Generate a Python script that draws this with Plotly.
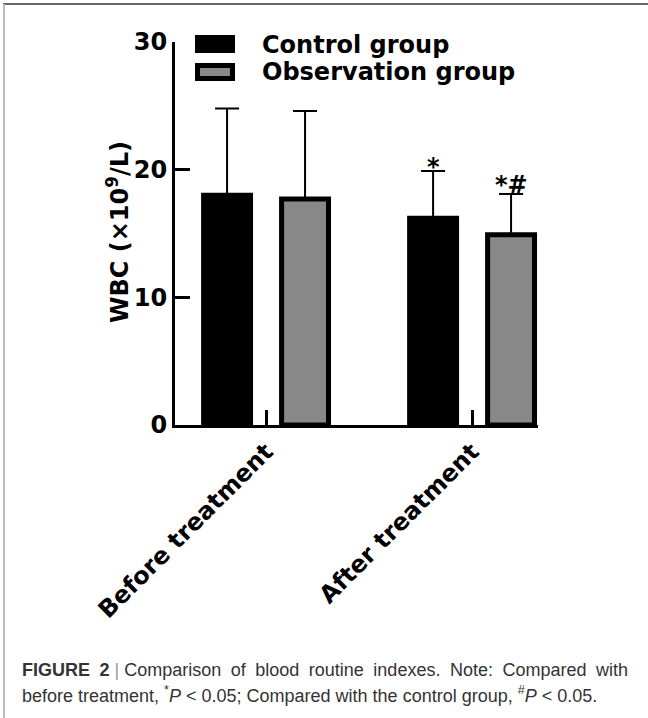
import plotly.graph_objects as go

# ---- data ----
categories = ["Before treatment", "After treatment"]
series_names = ["Control group", "Observation group"]
control_mean = [18.0, 16.2]
control_sd = [6.8, 3.7]
observation_mean = [17.7, 14.9]
observation_sd = [6.9, 3.2]
sig_control = ["", "*"]
sig_observation = ["", "*#"]
y_ticks = [0, 10, 20, 30]

# ---- geometry (pixels) ----
W, H = 648, 718
L, R, T, B = 175, 110, 42, 293
PW, PH = W - L - R, H - T - B


def px(xp):
    return (xp - L) / PW


def py(yp):
    return (H - B - yp) / PH


BOLD = dict(family="DejaVu Sans", size=24, color="black", weight="bold")
GRAY = "#888888"

fig = go.Figure()
fig.add_trace(go.Bar(
    x=categories, y=control_mean, name=series_names[0],
    marker=dict(color="black", line=dict(color="black", width=5)),
    error_y=dict(type="data", array=control_sd, arrayminus=[0] * len(control_sd),
                 symmetric=False, color="black", thickness=2, width=12),
    showlegend=False,
))
fig.add_trace(go.Bar(
    x=categories, y=observation_mean, name=series_names[1],
    marker=dict(color=GRAY, line=dict(color="black", width=5)),
    error_y=dict(type="data", array=observation_sd, arrayminus=[0] * len(observation_sd),
                 symmetric=False, color="black", thickness=2, width=12),
    showlegend=False,
))

annotations = []
# significance marks above error bars
for cat, m, s, lab in zip(categories, control_mean, control_sd, sig_control):
    if lab:
        annotations.append(dict(x=cat, y=m + s, xref="x", yref="y", text=lab, showarrow=False,
                                xshift=-39, yshift=-12, yanchor="bottom", font=BOLD))
for cat, m, s, lab in zip(categories, observation_mean, observation_sd, sig_observation):
    if lab:
        annotations.append(dict(x=cat, y=m + s, xref="x", yref="y", text=lab, showarrow=False,
                                xshift=39, yshift=-7, yanchor="bottom", font=BOLD))

# y-axis title
annotations.append(dict(x=px(118), y=py(232), xref="paper", yref="paper",
                        text="WBC (×10<sup>9</sup>/L)", textangle=-90, showarrow=False,
                        xanchor="center", yanchor="middle", font=BOLD))

# legend texts
annotations.append(dict(x=px(260), y=py(45), xref="paper", yref="paper", text=series_names[0],
                        showarrow=False, xanchor="left", yanchor="middle", font=BOLD))
annotations.append(dict(x=px(260), y=py(72), xref="paper", yref="paper", text=series_names[1],
                        showarrow=False, xanchor="left", yanchor="middle", font=BOLD))

# caption
CAP = dict(family="Liberation Sans", size=18, color="#333333")
S = " \u2005"
line1 = ("<b>FIGURE" + S + "2</b> <span style='color:#999999'>|</span> Comparison" + S + "of" + S +
         "blood" + S + "routine" + S + "indexes." + S + "Note:" + S + "Compared" + S + "with")
line2 = ("before treatment, <sup>*</sup><i>P</i> &lt; 0.05; Compared with the control group, "
         "<sup>#</sup><i>P</i> &lt; 0.05.")
annotations.append(dict(x=px(20), y=py(670), xref="paper", yref="paper", text=line1,
                        showarrow=False, xanchor="left", yanchor="middle", font=CAP))
annotations.append(dict(x=px(20), y=py(694), xref="paper", yref="paper", text=line2,
                        showarrow=False, xanchor="left", yanchor="middle", font=CAP))

shapes = [
    # legend swatches
    dict(type="rect", xref="paper", yref="paper", x0=px(197.5), x1=px(232.5), y0=py(37.5), y1=py(50.5),
         fillcolor="black", line=dict(color="black", width=5)),
    dict(type="rect", xref="paper", yref="paper", x0=px(197.5), x1=px(232.5), y0=py(65.5), y1=py(78.5),
         fillcolor=GRAY, line=dict(color="black", width=5)),
    # figure frame
    dict(type="line", xref="paper", yref="paper", x0=px(3), x1=px(648), y0=py(4), y1=py(4),
         line=dict(color="#666666", width=2)),
    dict(type="line", xref="paper", yref="paper", x0=px(4), x1=px(4), y0=py(4), y1=py(718),
         line=dict(color="#bbbbbb", width=2)),
]

fig.update_layout(
    width=W, height=H, autosize=False,
    margin=dict(l=L, r=R, t=T, b=B, pad=0),
    paper_bgcolor="white", plot_bgcolor="white",
    barmode="group", bargap=0.243, bargroupgap=0.398,
    annotations=annotations, shapes=shapes,
    xaxis=dict(type="category", range=[-0.442, 1.320], showline=True, linecolor="black", linewidth=3,
               ticks="inside", ticklen=15, tickwidth=3, tickcolor="black", tickangle=-45,
               tickfont=BOLD, showgrid=False, zeroline=False),
    yaxis=dict(range=[0, 30], tickvals=y_ticks, showline=True, linecolor="black", linewidth=3,
               ticks="inside", ticklen=15, tickwidth=3, tickcolor="black",
               tickfont=BOLD, showgrid=False, zeroline=False),
)

fig.write_html("out.html", config={"displayModeBar": False},
               post_script="document.body.style.margin='0';")
